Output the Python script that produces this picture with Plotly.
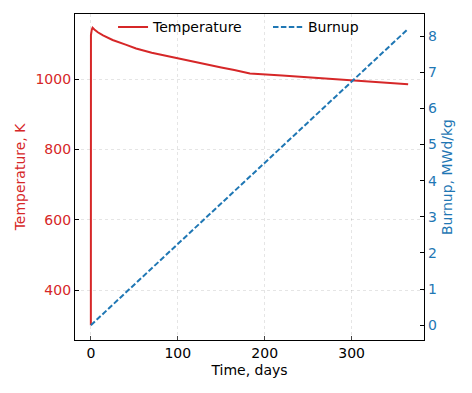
import plotly.graph_objects as go

# Temperature history (days, K)
time_temp = [0, 0.1, 1, 2, 4, 8, 14, 25, 40, 52, 70, 90, 110, 129, 150, 165, 178, 183, 220, 260, 300, 340, 365]
temperature = [300, 1125, 1140, 1146, 1141, 1133, 1124, 1111, 1098, 1087, 1075, 1064, 1053, 1043, 1033, 1026, 1019, 1016, 1010, 1003, 996, 990, 985]

# Burnup (days, MWd/kg)
time_burn = [0, 100, 200, 300, 365]
burnup = [0, 2.25, 4.49, 6.74, 8.2]

x_ticks = [0, 100, 200, 300]
temp_ticks = [400, 600, 800, 1000]
burn_ticks = [0, 1, 2, 3, 4, 5, 6, 7, 8]

RED = "#d62728"
BLUE = "#1f77b4"
FONT = "DejaVu Sans"
FS = 14

fig = go.Figure()
fig.add_trace(go.Scatter(x=time_temp, y=temperature, mode="lines", name="Temperature",
                         line=dict(color=RED, width=2), yaxis="y", legend="legend"))
fig.add_trace(go.Scatter(x=time_burn, y=burnup, mode="lines", name="Burnup",
                         line=dict(color=BLUE, width=2, dash="5.5px,2.4px"), yaxis="y2",
                         legend="legend2"))

grid = dict(showgrid=True, gridcolor="rgba(0,0,0,0.10)", griddash="dot", gridwidth=1)
leg = dict(orientation="h", y=1.008, xanchor="left", yanchor="top",
           bgcolor="rgba(0,0,0,0)", font=dict(size=FS), itemwidth=30)

fig.update_layout(
    width=464, height=385,
    margin=dict(l=67, r=48, t=6, b=53, autoexpand=False),
    paper_bgcolor="white", plot_bgcolor="white",
    font=dict(family=FONT, size=FS, color="black"),
    showlegend=True,
    legend=dict(x=0.109, **leg),
    legend2=dict(x=0.553, **leg),
    xaxis=dict(range=[-18.25, 383.25], tickvals=x_ticks, ticks="inside", ticklen=4,
               showline=True, linecolor="black", linewidth=1.2, mirror=True,
               zeroline=False, automargin=False,
               title=dict(text="Time, days", standoff=5, font=dict(size=FS)),
               tickfont=dict(size=FS), **grid),
    yaxis=dict(range=[258, 1185], tickvals=temp_ticks, ticks="inside", ticklen=4,
               showline=True, linecolor="black", linewidth=1.2, zeroline=False,
               automargin=False,
               tickfont=dict(color=RED, size=FS), tickcolor="black",
               title=dict(text="Temperature, K", font=dict(color=RED, size=FS), standoff=6),
               **grid),
    yaxis2=dict(range=[-0.41, 8.61], tickvals=burn_ticks, ticks="inside", ticklen=4,
                overlaying="y", side="right", showline=True, linecolor="black", linewidth=1.2,
                showgrid=False, zeroline=False, automargin=False,
                tickfont=dict(color=BLUE, size=FS), tickcolor="black",
                title=dict(text="Burnup, MWd/kg", font=dict(color=BLUE, size=FS), standoff=6)),
)

fig.write_html("out.html")
